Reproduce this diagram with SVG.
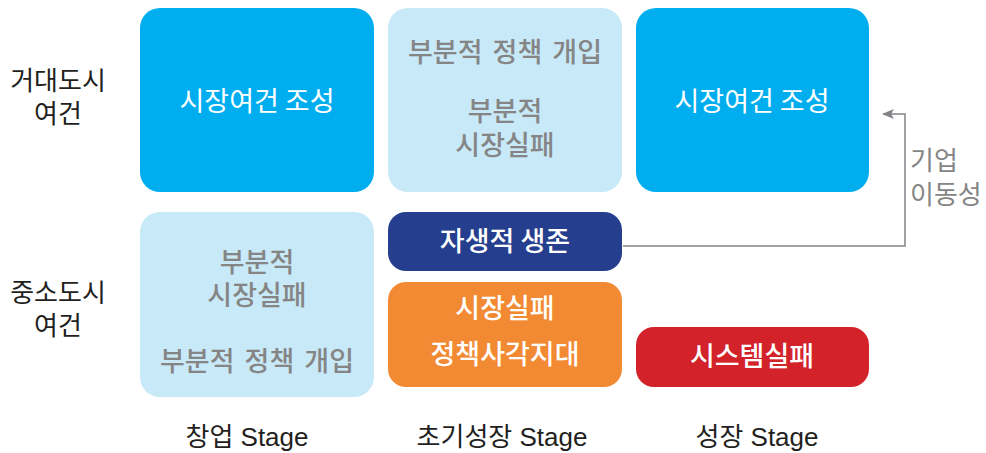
<svg xmlns="http://www.w3.org/2000/svg" width="986" height="453" viewBox="0 0 986 453">
<style>
text{font-family:"Noto Sans CJK KR","Noto Sans",sans-serif;font-size:26px;text-anchor:middle}
.n text{font-size:27px}
.w{fill:#fff}
.g{fill:#858585;font-weight:500}
.k{fill:#231f20}
.b{font-weight:500}
.s{font-family:"Liberation Sans","Noto Sans CJK KR",sans-serif}
.st{text-anchor:start}
</style>
<defs>
<marker id="ah" markerWidth="12" markerHeight="10" refX="11" refY="5" orient="auto" markerUnits="userSpaceOnUse">
<path d="M0,0 L12,5 L0,10 L3,5 Z" fill="#808285"/>
</marker>
</defs>
<g id="rowlabels">
<g id="big"><text class="k" x="58" y="90">거대도시</text><text class="k" x="58" y="123">여건</text></g>
<g id="small"><text class="k" x="58" y="302">중소도시</text><text class="k" x="58" y="335">여건</text></g>
</g>
<g id="n1" class="n"><rect x="140" y="8" width="234" height="184" rx="20" fill="#00aeef"/><text class="w" x="257" y="111">시장여건 조성</text></g>
<g id="n2" class="n"><rect x="388" y="8" width="234" height="184" rx="20" fill="#c8e9f8"/>
<text class="g" x="505" y="62" word-spacing="4">부분적 정책 개입</text><text class="g" x="505" y="121">부분적</text><text class="g" x="505" y="155">시장실패</text></g>
<g id="n3" class="n"><rect x="636" y="8" width="233" height="184" rx="20" fill="#00aeef"/><text class="w" x="752" y="111">시장여건 조성</text></g>
<g id="n4" class="n"><rect x="140" y="212" width="234" height="185" rx="20" fill="#c8e9f8"/>
<text class="g" x="257" y="272">부분적</text><text class="g" x="257" y="305">시장실패</text><text class="g" x="257" y="371" word-spacing="4">부분적 정책 개입</text></g>
<g id="n5" class="n"><rect x="388" y="212" width="234" height="59" rx="18" fill="#253f8e"/><text class="w b" x="505" y="251">자생적 생존</text></g>
<g id="n6" class="n"><rect x="388" y="282" width="234" height="105" rx="18" fill="#f28a33"/>
<text class="w b" x="505" y="318">시장실패</text><text class="w b" x="505" y="364">정책사각지대</text></g>
<g id="n7" class="n"><rect x="636" y="327" width="233" height="60" rx="18" fill="#d3222a"/><text class="w b" x="752" y="366">시스템실패</text></g>
<g id="connectors">
<path d="M623,246 H905 V114 H883" fill="none" stroke="#808285" stroke-width="1.5" marker-end="url(#ah)"/>
</g>
<g id="edgelabel"><text class="g st" x="910" y="170" style="font-weight:400">기업</text><text class="g st" x="910" y="204" style="font-weight:400">이동성</text></g>
<g id="stages">
<text class="k s" x="247" y="446">창업 Stage</text>
<text class="k s" x="502" y="446">초기성장 Stage</text>
<text class="k s" x="757" y="446">성장 Stage</text>
</g>
</svg>
